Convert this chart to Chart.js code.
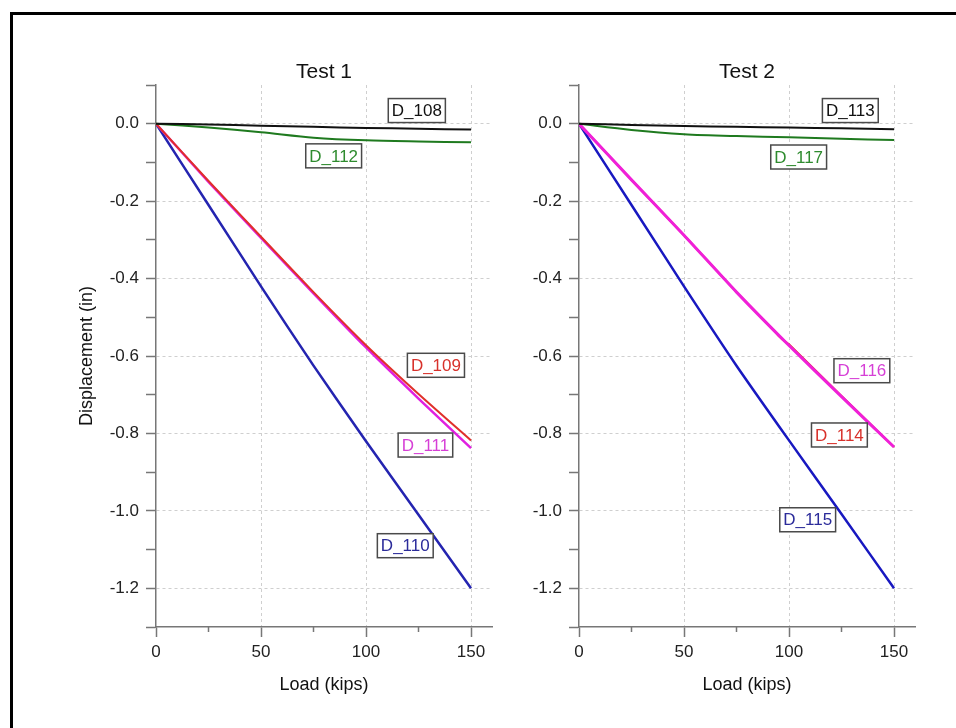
<!DOCTYPE html>
<html>
<head>
<meta charset="utf-8">
<script src="https://cdn.jsdelivr.net/npm/chart.js@4.4.1/dist/chart.umd.min.js"></script>
<style>
body { margin:0; background:#fff; width:956px; height:728px; overflow:hidden; position:relative; }
#frame { position:absolute; left:10px; top:12px; width:980px; height:760px; border-left:3px solid #000; border-top:3px solid #000; }
#c1 { position:absolute; left:0; top:0; }
#c2 { position:absolute; left:500px; top:0; }
</style>
</head>
<body>
<div id="frame"></div>
<canvas id="c1" width="500" height="728"></canvas>
<canvas id="c2" width="456" height="728"></canvas>
<script>
// 하중 (kips)
var load = [0, 25, 50, 75, 100, 125, 150];

// Test 1 변위 (in)
var d108 = [0, -0.002, -0.005, -0.008, -0.011, -0.013, -0.015];
var d112 = [0, -0.010, -0.022, -0.036, -0.043, -0.046, -0.048];
var d109 = [0, -0.148, -0.292, -0.435, -0.572, -0.698, -0.818];
var d111 = [0, -0.150, -0.295, -0.438, -0.578, -0.710, -0.838];
var d110 = [0, -0.210, -0.420, -0.625, -0.820, -1.010, -1.200];

// Test 2 변위 (in)
var d113 = [0, -0.003, -0.006, -0.008, -0.010, -0.012, -0.014];
var d117 = [0, -0.016, -0.027, -0.032, -0.035, -0.039, -0.042];
var d116 = [0, -0.145, -0.288, -0.435, -0.573, -0.705, -0.835];
var load114 = [0, 25, 50, 75, 93, 95, 97, 100, 125, 150];
var d114 = [0, -0.145, -0.288, -0.435, -0.535, -0.548, -0.558, -0.570, -0.703, -0.835];
var d115 = [0, -0.210, -0.420, -0.625, -0.818, -1.008, -1.200];

// 라벨 박스 (데이터 좌표 기준 중심)
var labels1 = ['D_108', 'D_112', 'D_109', 'D_111', 'D_110'];
var labX1 = [124.2, 84.6, 133.3, 128.3, 118.7];
var labY1 = [0.034, -0.083, -0.624, -0.830, -1.090];
var labC1 = ['#111111', '#2e8b2e', '#d8312b', '#d63fd6', '#2b2b9a'];

var labels2 = ['D_113', 'D_117', 'D_116', 'D_114', 'D_115'];
var labX2 = [129.2, 104.6, 134.7, 124.0, 108.9];
var labY2 = [0.034, -0.086, -0.638, -0.804, -1.023];
var labC2 = ['#111111', '#2e8b2e', '#d63fd6', '#d8312b', '#2b2b9a'];

var FONT = "'Liberation Sans', Arial, sans-serif";

function pts(xs, ys)
{
    return ys.map(function(v, i){ return {x: xs[i], y: v}; });
}

function ds(xs, ys, color, w, t)
{
    return {data: pts(xs, ys), borderColor: color, borderWidth: w, pointRadius: 0, fill: false, tension: t};
}

// 제목, 라벨 박스, x 보조 눈금
var boxPlugin = {
    id: 'boxes',
    afterDatasetsDraw: function(chart){
        var o = chart.options.plugins.boxes;
        var ctx = chart.ctx;
        var xs = chart.scales.x, ys = chart.scales.y;
        var area = chart.chartArea;
        ctx.save();
        ctx.textAlign = 'center';
        ctx.textBaseline = 'middle';

        // 제목 (플롯 영역 중앙)
        ctx.font = '21px ' + FONT;
        ctx.fillStyle = '#111';
        ctx.fillText(o.title, (area.left + area.right) / 2, 72);

        ctx.font = '17px ' + FONT;
        for(var i = 0; i < o.names.length; i++)
        {
            var cx = xs.getPixelForValue(o.xs[i]);
            var cy = ys.getPixelForValue(o.ys[i]);
            var w = ctx.measureText(o.names[i]).width + 7;
            var h = 24;
            ctx.fillStyle = '#fff';
            ctx.fillRect(cx - w/2, cy - h/2, w, h);
            ctx.strokeStyle = '#4a4a4a';
            ctx.lineWidth = 1.5;
            ctx.strokeRect(cx - w/2, cy - h/2, w, h);
            ctx.fillStyle = o.colors[i];
            ctx.fillText(o.names[i], cx, cy + 1);
        }
        // 짧은 보조 눈금 (25, 75, 125)
        ctx.strokeStyle = '#777';
        ctx.lineWidth = 1.5;
        xs.ticks.forEach(function(t){
            if(t.value % 50 !== 0)
            {
                var px = xs.getPixelForValue(t.value);
                ctx.beginPath();
                ctx.moveTo(px, xs.top);
                ctx.lineTo(px, xs.top + 5);
                ctx.stroke();
            }
        });
        ctx.restore();
    }
};

function mkopts(title, showYTitle, yWidth, padRight, names, lx, ly, lc)
{
    return {
        responsive: false,
        animation: false,
        layout: {padding: {left: 0, right: padRight, top: 85, bottom: 0}},
        plugins: {
            legend: {display: false},
            tooltip: {enabled: false},
            title: {display: false},
            boxes: {title: title, names: names, xs: lx, ys: ly, colors: lc}
        },
        scales: {
            x: {
                type: 'linear', min: 0, max: 160,
                ticks: {
                    stepSize: 25, includeBounds: false, autoSkip: false, maxRotation: 0, padding: 5,
                    color: '#222', font: {family: FONT, size: 17},
                    callback: function(v){ return v % 50 === 0 ? String(v) : ''; }
                },
                grid: {
                    color: function(c){ return (c.tick && c.tick.value % 50 === 0 && c.tick.value > 0) ? '#cfcfcf' : 'rgba(0,0,0,0)'; },
                    tickColor: function(c){ return (c.tick && c.tick.value % 50 === 0) ? '#777' : 'rgba(0,0,0,0)'; },
                    tickLength: 10, lineWidth: 1, tickWidth: 1.5
                },
                border: {color: '#777', width: 1.5, dash: [3, 3]},
                title: {display: true, text: 'Load (kips)', color: '#111', font: {family: FONT, size: 18}, padding: {top: 0, bottom: 32}},
                afterFit: function(s){ s.height = 101; }
            },
            y: {
                min: -1.3, max: 0.1,
                ticks: {
                    stepSize: 0.1, autoSkip: false, padding: 7,
                    color: '#222', font: {family: FONT, size: 17},
                    callback: function(v){
                        var n = Math.round(v * 10);
                        return (n % 2 === 0 && n <= 0) ? (n / 10).toFixed(1) : '';
                    }
                },
                grid: {
                    color: function(c){
                        if(!c.tick) return 'rgba(0,0,0,0)';
                        var n = Math.round(c.tick.value * 10);
                        return (n % 2 === 0 && n <= 0) ? '#cfcfcf' : 'rgba(0,0,0,0)';
                    },
                    tickColor: '#777', tickLength: 10, lineWidth: 1, tickWidth: 1.5
                },
                border: {color: '#777', width: 1.5, dash: [3, 3]},
                title: {display: showYTitle, text: 'Displacement (in)', color: '#111', font: {family: FONT, size: 18}, padding: {top: 76, bottom: 0}},
                afterFit: function(s){ s.width = yWidth; }
            }
        }
    };
}

new Chart(document.getElementById('c1'), {
    type: 'line',
    data: {
        datasets: [
            ds(load, d108, '#111111', 2, 0.2),
            ds(load, d112, '#1f7a1f', 2, 0.3),
            ds(load, d109, '#e0302a', 2, 0.2),
            ds(load, d111, '#e020e0', 2.5, 0.2),
            ds(load, d110, '#2424b0', 2.5, 0.2)
        ]
    },
    options: mkopts('Test 1', true, 156, 8, labels1, labX1, labY1, labC1),
    plugins: [boxPlugin]
});

new Chart(document.getElementById('c2'), {
    type: 'line',
    data: {
        datasets: [
            ds(load, d113, '#111111', 2, 0.2),
            ds(load, d117, '#1f7a1f', 2, 0.3),
            ds(load, d116, '#f020d8', 3, 0.2),
            ds(load114, d114, '#e0302a', 2, 0),
            ds(load, d115, '#1818c0', 2.5, 0.2)
        ]
    },
    options: mkopts('Test 2', false, 79, 41, labels2, labX2, labY2, labC2),
    plugins: [boxPlugin]
});
</script>
</body>
</html>
